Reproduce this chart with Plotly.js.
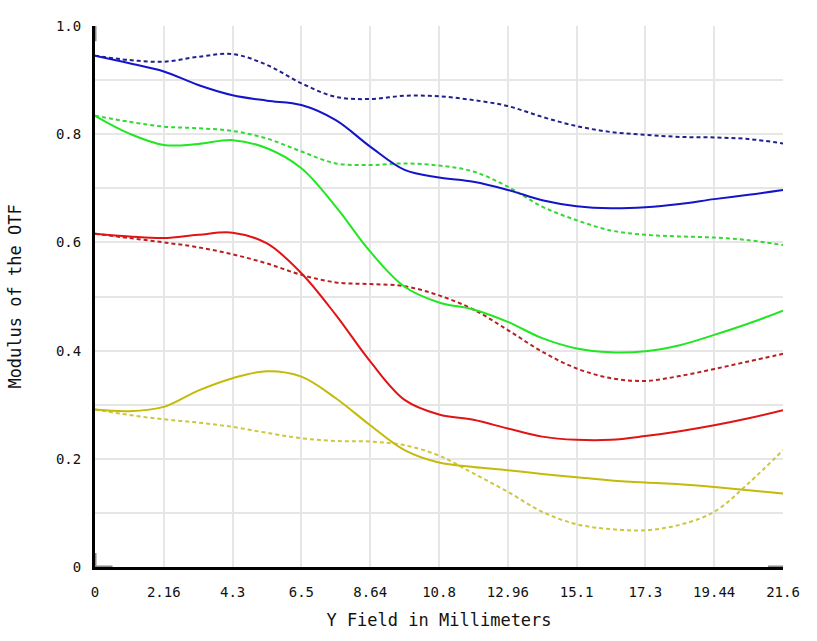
<!DOCTYPE html>
<html>
<head>
<meta charset="utf-8">
<script src="https://cdn.plot.ly/plotly-3.0.1.min.js"></script>
<style>
  html, body { margin: 0; padding: 0; background: #ffffff; }
  #chart { width: 817px; height: 641px; }
</style>
</head>
<body>
<div id="chart"></div>
<script>
// field positions (mm), sampled every half grid step
const field = [0, 1.08, 2.16, 3.24, 4.32, 5.4, 6.48, 7.56, 8.64, 9.72, 10.8,
               11.88, 12.96, 14.04, 15.12, 16.2, 17.28, 18.36, 19.44, 20.52, 21.6];

const xTickVals = [0, 2.16, 4.32, 6.48, 8.64, 10.8, 12.96, 15.12, 17.28, 19.44, 21.6];
const xTickText = ['0', '2.16', '4.3', '6.5', '8.64', '10.8', '12.96', '15.1', '17.3', '19.44', '21.6'];
const yTickVals = [0, 0.2, 0.4, 0.6, 0.8, 1.0];
const yTickText = ['0', '0.2', '0.4', '0.6', '0.8', '1.0'];

// blue
const blueTan = [0.945, 0.931, 0.916, 0.891, 0.872, 0.862, 0.854, 0.826, 0.777, 0.734, 0.720,
                 0.712, 0.697, 0.678, 0.667, 0.663, 0.665, 0.671, 0.680, 0.688, 0.697];
const blueSag = [0.945, 0.937, 0.934, 0.943, 0.948, 0.928, 0.894, 0.869, 0.865, 0.871, 0.870,
                 0.863, 0.852, 0.832, 0.815, 0.804, 0.799, 0.795, 0.794, 0.791, 0.783];
// green
const greenTan = [0.834, 0.801, 0.780, 0.782, 0.789, 0.774, 0.737, 0.666, 0.583, 0.518, 0.489,
                  0.476, 0.453, 0.423, 0.404, 0.397, 0.399, 0.410, 0.429, 0.450, 0.474];
const greenSag = [0.834, 0.823, 0.814, 0.811, 0.806, 0.792, 0.768, 0.746, 0.743, 0.746, 0.742,
                  0.731, 0.703, 0.666, 0.641, 0.622, 0.614, 0.611, 0.609, 0.604, 0.595];
// red
const redTan = [0.616, 0.611, 0.608, 0.614, 0.618, 0.598, 0.543, 0.466, 0.380, 0.309, 0.282,
                0.272, 0.256, 0.241, 0.235, 0.235, 0.242, 0.251, 0.262, 0.275, 0.290];
const redSag = [0.616, 0.608, 0.600, 0.591, 0.578, 0.561, 0.540, 0.526, 0.523, 0.519, 0.502,
                0.476, 0.438, 0.398, 0.367, 0.349, 0.344, 0.353, 0.366, 0.380, 0.394];
// yellow
const yellowTan = [0.291, 0.288, 0.296, 0.326, 0.349, 0.362, 0.352, 0.312, 0.262, 0.216, 0.193,
                   0.185, 0.179, 0.172, 0.166, 0.160, 0.156, 0.153, 0.148, 0.142, 0.136];
const yellowSag = [0.291, 0.281, 0.273, 0.267, 0.259, 0.248, 0.238, 0.233, 0.232, 0.225, 0.206,
                   0.173, 0.139, 0.102, 0.079, 0.070, 0.068, 0.078, 0.102, 0.155, 0.216];

const mono = 'DejaVu Sans Mono, Consolas, monospace';
const dotted = '4px,3px';

function curve(y, color, dash) {
    return {
        x: field,
        y: y,
        type: 'scatter',
        mode: 'lines',
        line: { color: color, width: 2, dash: dash, shape: 'spline', smoothing: 1 },
        hoverinfo: 'skip'
    };
}

const traces = [
    curve(yellowSag, '#cfc640', dotted),
    curve(yellowTan, '#c4ba0a', 'solid'),
    curve(redSag, '#b82020', dotted),
    curve(redTan, '#e01414', 'solid'),
    curve(greenSag, '#34d834', dotted),
    curve(greenTan, '#22e622', 'solid'),
    curve(blueSag, '#20208c', dotted),
    curve(blueTan, '#1414c8', 'solid')
];

// light grey ends on the axis lines, as in the original
function axisEnd(x0, y0, x1, y1) {
    return {
        type: 'line', xref: 'x', yref: 'y', layer: 'above',
        x0: x0, y0: y0, x1: x1, y1: y1,
        line: { color: '#8a8a8a', width: 3 }
    };
}

const layout = {
    width: 817,
    height: 641,
    paper_bgcolor: '#ffffff',
    plot_bgcolor: '#ffffff',
    showlegend: false,
    margin: { l: 95, r: 34, t: 26, b: 74 },
    font: { family: mono, size: 14, color: '#111111' },
    xaxis: {
        range: [0, 21.6],
        tickvals: xTickVals,
        ticktext: xTickText,
        showgrid: true,
        gridcolor: '#e6e6e6',
        gridwidth: 2,
        zeroline: false,
        showline: true,
        linecolor: '#000000',
        linewidth: 3,
        ticks: 'outside',
        ticklen: 10,
        tickcolor: '#ffffff',
        tickfont: { family: mono, size: 14, color: '#111111' },
        title: { text: 'Y Field in Millimeters', font: { family: mono, size: 17, color: '#111111' }, standoff: 16 }
    },
    yaxis: {
        range: [0, 1],
        tickvals: yTickVals,
        ticktext: yTickText,
        showgrid: true,
        gridcolor: '#e6e6e6',
        gridwidth: 2,
        minor: { dtick: 0.1, tick0: 0, showgrid: true, gridcolor: '#e6e6e6', gridwidth: 2 },
        zeroline: false,
        showline: true,
        linecolor: '#000000',
        linewidth: 3,
        ticks: 'outside',
        ticklen: 8,
        tickcolor: '#ffffff',
        tickfont: { family: mono, size: 14, color: '#111111' },
        title: { text: 'Modulus of the OTF', font: { family: mono, size: 17, color: '#111111' }, standoff: 30 }
    },
    shapes: [
        axisEnd(0, 1.0, 0, 0.972),
        axisEnd(0, 0, 0, 0.026),
        axisEnd(0, 0, 0.55, 0),
        axisEnd(21.13, 0, 21.6, 0)
    ]
};

Plotly.newPlot('chart', traces, layout, { displayModeBar: false, staticPlot: true });
</script>
</body>
</html>
